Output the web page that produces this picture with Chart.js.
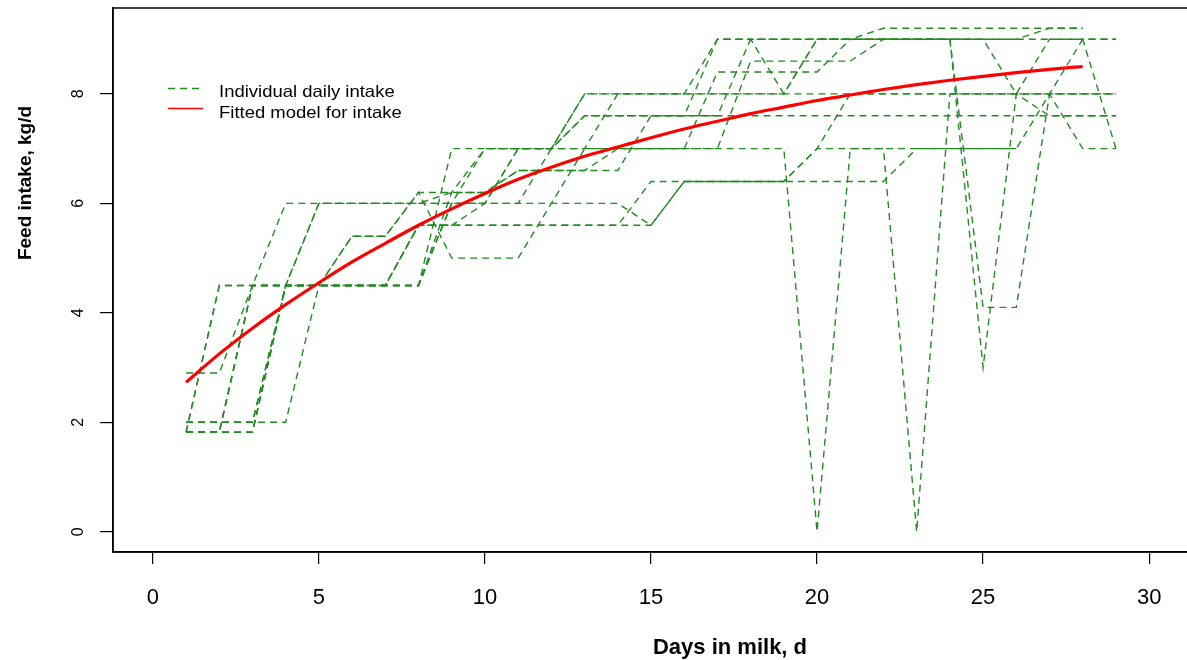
<!DOCTYPE html>
<html lang="en">
<head>
  <meta charset="UTF-8">
  <title>Feed intake by days in milk</title>
  <script src="https://cdn.jsdelivr.net/npm/chart.js"></script>
  <style>
    body {
      margin: 0;
      overflow: hidden;
      background: #fff;
    }
    .chart-container {
      width: 1195px; /* frame runs just past the right edge of the window */
      height: 660px;
    }
  </style>
</head>
<body>
  <div class="chart-container">
    <canvas id="intakeChart"></canvas>
  </div>
  <script>
    const days = [1, 2, 3, 4, 5, 6, 7, 8, 9, 10, 11, 12, 13, 14, 15, 16, 17, 18, 19, 20, 21, 22, 23, 24, 25, 26, 27, 28, 29];

    // daily intake per cow, kg/d, starting at day 1
    const cow1 = [2.9, 2.9, 4.5, 6.0, 6.0, 6.0, 6.0, 6.0, 6.0, 6.0, 6.0, 6.0, 6.0, 6.0, 5.6, 6.4, 6.4, 6.4, 6.4, 6.4, 6.4, 6.4, 7.0, 7.0, 7.0, 7.0];
    const cow2 = [1.82, 4.5, 4.5, 4.5, 4.5, 4.5, 4.5, 4.5, 7.0, 7.0, 7.0, 7.0, 8.0, 8.0, 8.0, 8.0, 8.0, 8.0, 8.0, 8.0, 8.0, 8.0, 8.0, 8.0, 8.0, 8.0, 8.0, 8.0, 8.0];
    const cow3 = [1.82, 4.5, 4.5, 4.5, 4.5, 4.5, 4.5, 5.6, 5.6, 5.6, 5.6, 5.6, 5.6, 5.6, 6.4, 6.4, 6.4, 6.4, 6.4, 7.0, 7.0, 7.0, 7.0, 7.0, 7.0, 7.0, 8.0, 7.0, 7.0];
    const cow4 = [1.82, 1.82, 4.5, 4.5, 4.5, 5.4, 5.4, 6.2, 6.2, 6.2, 6.6, 6.6, 6.6, 6.6, 7.6, 7.6, 7.6, 7.6, 7.6, 7.6, 7.6, 7.6, 7.6, 7.6, 7.6, 7.6, 7.6, 7.6, 7.6];
    const cow5 = [2.0, 2.0, 2.0, 2.0, 4.5, 5.4, 5.4, 6.2, 5.0, 5.0, 5.0, 6.0, 7.0, 7.0, 7.0, 7.0, 8.4, 8.4, 8.4, 8.4, 9.0, 9.0, 9.0, 9.0, 9.0, 9.0, 9.0, 9.0, 9.0];
    const cow6 = [1.82, 1.82, 1.82, 4.5, 4.5, 4.5, 4.5, 4.5, 6.0, 7.0, 7.0, 7.0, 7.6, 7.6, 7.6, 7.6, 9.0, 9.0, 9.0, 9.0, 9.0, 9.0, 9.0, 9.0, 9.0, 9.0, 9.2, 9.2];
    const cow7 = [1.82, 1.82, 1.82, 4.5, 6.0, 6.0, 6.0, 6.0, 6.2, 6.2, 6.6, 6.6, 6.6, 7.0, 7.0, 7.0, 7.0, 8.6, 8.6, 8.6, 8.6, 9.0, 9.0, 9.0, 9.0, 8.0, 9.0, 9.0, 7.0];
    const cow8 = [2.0, 2.0, 2.0, 4.5, 4.5, 4.5, 4.5, 5.6, 5.6, 6.0, 7.0, 7.0, 7.0, 8.0, 8.0, 8.0, 8.0, 8.0, 8.0, 9.0, 9.0, 9.2, 9.2, 9.2, 9.2, 9.2, 9.2, 9.2];
    const cow9 = [1.82, 1.82, 4.5, 4.5, 4.5, 4.5, 4.5, 4.5, 6.0, 6.0, 7.0, 7.0, 7.0, 7.0, 7.0, 7.0, 7.0, 7.0, 7.0, 0.0, 7.0, 7.0, 0.0, 8.0, 8.0, 8.0, 8.0, 8.0, 8.0];
    const cow10 = [1.82, 1.82, 1.82, 4.5, 4.5, 4.5, 4.5, 4.5, 6.2, 7.0, 7.0, 7.0, 8.0, 8.0, 8.0, 8.0, 9.0, 9.0, 8.0, 9.0, 9.0, 9.0, 9.0, 9.0, 3.0, 8.0, 8.0, 9.0, 9.0];
    const cow11 = [2.0, 2.0, 2.0, 4.5, 6.0, 6.0, 6.0, 6.0, 6.0, 6.0, 6.0, 7.0, 7.6, 7.6, 7.6, 7.6, 7.6, 9.0, 9.0, 9.0, 9.0, 9.0, 9.0, 9.0, 4.1, 4.1, 8.0, 8.0, 8.0];
    const cow12 = [1.82, 1.82, 4.5, 4.5, 4.5, 4.5, 4.5, 5.6, 5.6, 5.6, 5.6, 5.6, 5.6, 5.6, 5.6, 6.4, 6.4, 6.4, 6.4, 7.0, 8.0, 8.0, 8.0, 8.0, 8.0, 8.0, 7.6, 7.6, 7.6];
    const cows = [cow1, cow2, cow3, cow4, cow5, cow6, cow7, cow8, cow9, cow10, cow11, cow12];

    // fitted curve, days 1-28
    const fitted = [2.73, 3.25, 3.72, 4.15, 4.55, 4.93, 5.27, 5.60, 5.90, 6.18, 6.44, 6.66, 6.86, 7.03, 7.20, 7.36, 7.50, 7.64, 7.76, 7.88, 7.98, 8.08, 8.17, 8.25, 8.32, 8.39, 8.45, 8.50];

    const xTicks = [0, 5, 10, 15, 20, 25, 30];
    const yTicks = [0, 2, 4, 6, 8];
    const legendLabels = ['Individual daily intake', 'Fitted model for intake'];

    const green = '#228B22';
    const red = '#FF0000';
    const font = '"Liberation Sans", Arial, sans-serif';

    const toPoints = (values) => values.map((v, i) => ({ x: days[i], y: v }));

    const datasets = [{
      label: legendLabels[1],
      data: toPoints(fitted),
      borderColor: red,
      borderWidth: 3.2,
      cubicInterpolationMode: 'monotone',
      order: 0
    }];
    cows.forEach((c, i) => {
      datasets.push({
        label: 'Cow ' + (i + 1),
        data: toPoints(c),
        borderColor: green,
        borderWidth: 1.4,
        borderDash: [7, 5],
        order: 1
      });
    });

    // box, rotated y labels, axis titles and legend, drawn the way base R does it
    const decorations = {
      id: 'decorations',
      afterDraw(chart) {
        const { ctx, chartArea: a, scales } = chart;
        ctx.save();
        ctx.strokeStyle = '#000';
        ctx.lineWidth = 1.5;
        ctx.setLineDash([]);
        ctx.strokeRect(a.left, a.top, a.right - a.left, a.bottom - a.top);

        ctx.fillStyle = '#000';
        ctx.font = '16px ' + font;
        ctx.textAlign = 'center';
        ctx.textBaseline = 'middle';
        yTicks.forEach(v => {
          ctx.save();
          ctx.translate(79, scales.y.getPixelForValue(v));
          ctx.rotate(-Math.PI / 2);
          ctx.fillText(String(v), 0, 0);
          ctx.restore();
        });

        ctx.textBaseline = 'alphabetic';
        ctx.font = 'bold 22px ' + font;
        ctx.fillText('Days in milk, d', 730, 654);
        ctx.save();
        ctx.translate(31, 183);
        ctx.rotate(-Math.PI / 2);
        ctx.font = 'bold 19px ' + font;
        ctx.fillText('Feed intake, kg/d', 0, 0);
        ctx.restore();

        // legend
        ctx.lineWidth = 1.4;
        ctx.strokeStyle = green;
        ctx.setLineDash([7, 5]);
        ctx.beginPath();
        ctx.moveTo(168, 88.5);
        ctx.lineTo(199, 88.5);
        ctx.stroke();
        ctx.setLineDash([]);
        ctx.strokeStyle = red;
        ctx.lineWidth = 1.6;
        ctx.beginPath();
        ctx.moveTo(168, 108.5);
        ctx.lineTo(203, 108.5);
        ctx.stroke();

        // legend text is a little wide for its height
        ctx.font = '16.5px ' + font;
        ctx.textAlign = 'left';
        [96.7, 118.3].forEach((y, i) => {
          ctx.save();
          ctx.translate(219, y);
          ctx.scale(1.12, 1);
          ctx.fillText(legendLabels[i], 0, 0);
          ctx.restore();
        });
        ctx.restore();
      }
    };

    const ctx = document.getElementById('intakeChart').getContext('2d');
    new Chart(ctx, {
      type: 'line',
      data: { datasets: datasets },
      options: {
        responsive: true,
        maintainAspectRatio: false,
        animation: false,
        layout: { padding: { top: 8, right: 6, left: 0, bottom: 0 } },
        elements: { point: { radius: 0 }, line: { tension: 0 } },
        plugins: { legend: { display: false }, tooltip: { enabled: false } },
        scales: {
          x: {
            type: 'linear',
            min: -1.2,
            max: 31.2,
            afterBuildTicks: (s) => { s.ticks = xTicks.map(v => ({ value: v })); },
            afterFit: (s) => { s.height = 108; },
            grid: { drawOnChartArea: false, drawTicks: true, tickLength: 12, color: '#000', lineWidth: 1.2 },
            border: { display: true, color: '#000', width: 1.5 },
            ticks: { color: '#000', padding: 21, maxRotation: 0, font: { family: font, size: 22 } }
          },
          y: {
            type: 'linear',
            min: -0.37,
            max: 9.57,
            afterBuildTicks: (s) => { s.ticks = yTicks.map(v => ({ value: v })); },
            afterFit: (s) => { s.width = 113; },
            grid: { drawOnChartArea: false, drawTicks: true, tickLength: 13, color: '#000', lineWidth: 1.2 },
            border: { display: true, color: '#000', width: 1.5 },
            ticks: { display: false }
          }
        }
      },
      plugins: [decorations]
    });
  </script>
</body>
</html>
